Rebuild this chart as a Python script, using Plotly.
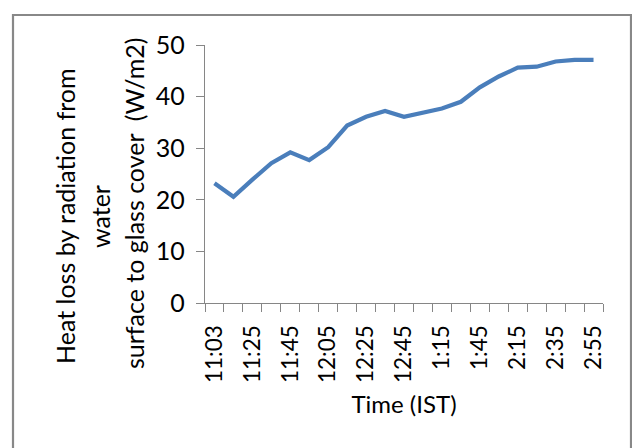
import plotly.graph_objects as go

times = ["11:03", "11:15", "11:25", "11:35", "11:45", "11:55", "12:05", "12:15",
         "12:25", "12:35", "12:45", "1:00", "1:15", "1:30", "1:45", "2:00",
         "2:15", "2:25", "2:35", "2:45", "2:55"]
heat_loss = [23.2, 20.6, 23.9, 27.1, 29.2, 27.7, 30.2, 34.4, 36.1, 37.2, 36.1,
             36.9, 37.7, 39.0, 41.8, 43.9, 45.6, 45.8, 46.8, 47.1, 47.1]
title_lines = ["Heat loss by radiation from", "water", "surface to glass cover  (W/m2)"]
x_title = "Time (IST)"

idx = list(range(len(times)))
FONT = "Lato"
AX = "#868686"

W, H = 632, 448
# plot area in page pixels: x 205..603, y 45..303
L, R, T, B = 205, W - 603, 45, H - 303
pw, ph = 603 - 205, 303 - 45

def px(x):
    return (x - 205) / pw

def py(y):
    return (303 - y) / ph

fig = go.Figure()
fig.add_trace(go.Scatter(x=idx, y=heat_loss, mode="lines",
                         line=dict(color="#4A7EBB", width=4.2), hoverinfo="skip"))

fig.update_layout(
    width=W, height=H,
    margin=dict(l=L, r=R, t=T, b=B),
    paper_bgcolor="white", plot_bgcolor="white",
    showlegend=False,
    font=dict(family=FONT, size=22, color="#000000"),
    xaxis=dict(
        range=[-0.5, len(times) - 0.5],
        tickmode="array",
        tickvals=idx[::2],
        ticktext=times[::2],
        tickangle=-90,
        ticks="",
        showgrid=False, zeroline=False,
        showline=True, linecolor=AX, linewidth=1.3,
        tickfont=dict(family=FONT, size=22.5),
        ticklabelstandoff=12,
        minor=dict(ticks="outside", ticklen=8, tickcolor=AX, tickwidth=1.3,
                   tick0=-0.5, dtick=1, showgrid=False),
        title=dict(text=x_title, font=dict(family=FONT, size=24), standoff=14),
    ),
    yaxis=dict(
        range=[0, 50], dtick=10,
        ticks="outside", ticklen=8, tickcolor=AX, tickwidth=1.3,
        showgrid=False, zeroline=False,
        showline=True, linecolor=AX, linewidth=1.3,
        tickfont=dict(family=FONT, size=25),
        ticklabelstandoff=6,
    ),
)

# three-line y-axis title
centers = [(65, 216), (100, 217), (134, 203)]
for text, (cx, cy) in zip(title_lines, centers):
    fig.add_annotation(text=text, xref="paper", yref="paper", x=px(cx), y=py(cy),
                       textangle=-90, showarrow=False, xanchor="center", yanchor="middle",
                       font=dict(family=FONT, size=25, color="#000000"))

# chart frame
fig.add_shape(type="rect", xref="paper", yref="paper",
              x0=px(13), x1=px(631), y0=py(470), y1=py(15),
              line=dict(color="#888888", width=2.2), fillcolor="rgba(0,0,0,0)", layer="below")

fig.write_html("out.html",
               config={"displayModeBar": False},
               post_script="document.body.style.margin='0';document.body.style.overflow='hidden';")
